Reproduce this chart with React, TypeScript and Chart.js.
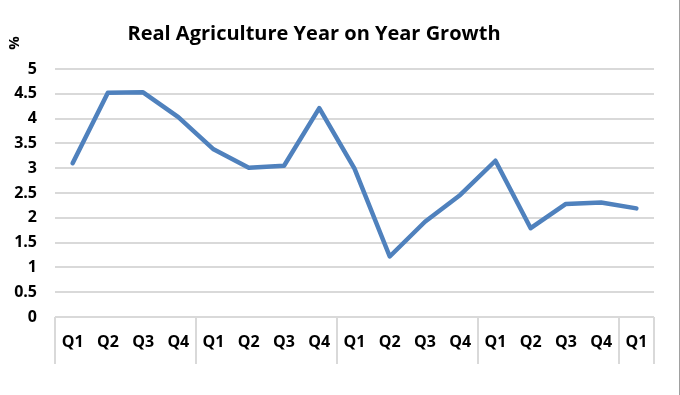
import React, { useEffect, useRef } from "react";
import { Chart, registerables } from "chart.js";

Chart.register(...registerables);

const categories = ["Q1", "Q2", "Q3", "Q4", "Q1", "Q2", "Q3", "Q4", "Q1", "Q2", "Q3", "Q4", "Q1", "Q2", "Q3", "Q4", "Q1"];
const growth = [3.1, 4.52, 4.53, 4.03, 3.38, 3.01, 3.05, 4.21, 2.99, 1.22, 1.92, 2.46, 3.15, 1.79, 2.28, 2.31, 2.19];
const groupBoundaries = [0, 4, 8, 12, 16, 17];
const yMin = 0;
const yMax = 5;
const yStep = 0.5;
const titleText = "Real Agriculture Year on Year Growth";
const unitText = "%";

const FONT = "'Open Sans', sans-serif";

const decorPlugin = {
  id: "decor",
  afterDraw(chart: any) {
    const ctx = chart.ctx;
    const xs = chart.scales.x;
    const area = chart.chartArea;
    ctx.save();
    ctx.strokeStyle = "#d9d9d9";
    ctx.lineWidth = 2;
    groupBoundaries.forEach((b) => {
      const px = Math.round(xs.getPixelForValue(b - 0.5));
      ctx.beginPath();
      ctx.moveTo(px, area.bottom);
      ctx.lineTo(px, area.bottom + 47);
      ctx.stroke();
    });
    ctx.fillStyle = "#000";
    ctx.font = `bold 20px ${FONT}`;
    ctx.textAlign = "center";
    ctx.textBaseline = "alphabetic";
    ctx.fillText(titleText, 314, 40);
    ctx.translate(19, 43);
    ctx.rotate(-Math.PI / 2);
    ctx.font = `bold 15px ${FONT}`;
    ctx.fillText(unitText, 0, 0);
    ctx.restore();
    ctx.save();
    ctx.strokeStyle = "#a0a0a0";
    ctx.lineWidth = 1;
    ctx.beginPath();
    ctx.moveTo(679.5, 0);
    ctx.lineTo(679.5, 395);
    ctx.stroke();
    ctx.restore();
  },
};

export default function App() {
  const ref = useRef<HTMLCanvasElement | null>(null);
  useEffect(() => {
    document.body.style.margin = "0";
    if (!ref.current) return;
    const chart = new Chart(ref.current, {
      type: "line",
      data: {
        labels: categories,
        datasets: [
          {
            data: growth,
            borderColor: "#4f81bd",
            borderWidth: 4.5,
            pointRadius: 0,
            tension: 0,
            borderCapStyle: "round",
            borderJoinStyle: "round",
          },
        ],
      },
      options: {
        animation: false,
        responsive: true,
        maintainAspectRatio: false,
        layout: { padding: { left: 0, right: 26, top: 69, bottom: 0 } },
        plugins: { legend: { display: false }, title: { display: false }, tooltip: { enabled: false } },
        scales: {
          x: {
            offset: true,
            grid: { display: false },
            border: { display: false },
            ticks: {
              color: "#000",
              font: { family: FONT, weight: "bold", size: 16 },
              padding: 8,
              maxRotation: 0,
              autoSkip: false,
            },
            afterFit(scale: any) {
              scale.height = 78;
            },
          },
          y: {
            min: yMin,
            max: yMax,
            grid: { color: "#d9d9d9", lineWidth: 2, drawTicks: false },
            border: { display: false },
            ticks: {
              stepSize: yStep,
              color: "#000",
              font: { family: FONT, weight: "bold", size: 16 },
              padding: 18,
              callback: (v: any) => String(Number(v)),
            },
            afterFit(scale: any) {
              scale.width = 55;
            },
          },
        },
      },
      plugins: [decorPlugin],
    });
    return () => chart.destroy();
  }, []);
  return (
    <div style={{ width: 680, height: 395, position: "relative" }}>
      <canvas ref={ref} />
    </div>
  );
}
